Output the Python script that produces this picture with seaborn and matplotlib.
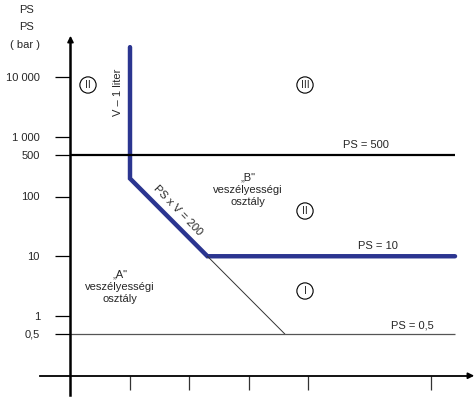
import numpy as np
import pandas as pd
import matplotlib
matplotlib.use("Agg")
import matplotlib.pyplot as plt
import seaborn as sns

# boundary data (V in liter, PS in bar)
blue_v = [1, 1, 20, 2.9e5]
blue_ps = [31600, 200, 10, 10]
thin_v = [20, 400]
thin_ps = [10, 0.5]
ps_lines = [500, 0.5]
line_end_v = 2.9e5
ytick_vals = [0.5, 1, 10, 100, 500, 1000, 10000]
ytick_labels = ["0,5", "1", "10", "100", "500", "1 000", "10 000"]
xtick_vals = [1, 10, 100, 1000, 1.15e5]

sns.set_style("white")
plt.rcParams['font.family'] = ['Liberation Sans', 'DejaVu Sans']

W, H = 477, 399
fig = plt.figure(figsize=(W / 100, H / 100), dpi=100)
ax = fig.add_axes([0, 0, 1, 1])
ax.set_xscale("log")
ax.set_yscale("log")

# pixel -> data mapping (about 59.5 px per decade)
def px(x, y):
    return 10 ** ((x - 130) / 59.5), 10 ** (4 - (y - 77) / 59.75)

x0, y1 = px(0, 0)
x1, y0 = px(W, H)
ax.set_xlim(x0, x1)
ax.set_ylim(y0, y1)

blue = "#2b3590"
sns.lineplot(x=blue_v, y=blue_ps, sort=False, estimator=None, color=blue,
             lw=3.2, ax=ax, solid_joinstyle="miter")
sns.lineplot(x=thin_v, y=thin_ps, sort=False, estimator=None,
             color="#333333", lw=0.7, ax=ax)
ax.hlines(ps_lines[0], 0.1, line_end_v, color="black", lw=1.6)
ax.hlines(ps_lines[1], 0.1, line_end_v, color="#555555", lw=0.9)

# axes through (0.1, 0.1)
for s in ["top", "right"]:
    ax.spines[s].set_visible(False)
ax.spines["left"].set_position(("data", 0.1))
ax.spines["bottom"].set_position(("data", 0.1))
ax.spines["left"].set_bounds(px(0, 395)[1], px(0, 40)[1])
ax.spines["bottom"].set_bounds(px(40, 0)[0], px(470, 0)[0])
ax.spines["left"].set_linewidth(1.8)
ax.spines["bottom"].set_linewidth(1.3)
ax.spines["left"].set_color("black")
ax.spines["bottom"].set_color("black")
ax.annotate("", xy=(0.1, px(0, 33)[1]), xytext=(0.1, px(0, 45)[1]),
            arrowprops=dict(arrowstyle="-|>", color="black", lw=1.2,
                            mutation_scale=9))
ax.annotate("", xy=(px(477, 0)[0], 0.1), xytext=(px(465, 0)[0], 0.1),
            arrowprops=dict(arrowstyle="-|>", color="black", lw=1.2,
                            mutation_scale=9))

ax.set_yticks(ytick_vals)
ax.set_yticklabels(ytick_labels)
ax.set_xticks(xtick_vals)
ax.set_xticklabels([])
ax.minorticks_off()
ax.tick_params(axis="y", direction="out", length=11, width=0.9, pad=11,
               labelsize=8, color="black", left=True)
ax.tick_params(axis="x", direction="out", length=10, width=0.9,
               color="#333333", bottom=True)

fs = 8
ax.text(*px(27, 10), "PS", ha="center", va="center", fontsize=fs)
ax.text(*px(27, 27), "PS", ha="center", va="center", fontsize=fs)
ax.text(*px(25, 45), "( bar )", ha="center", va="center", fontsize=fs)

circ = dict(boxstyle="circle,pad=0.3", fc="white", ec="black", lw=0.8)
for (cx, cy), lab in [((88, 85), "II"), ((305, 85), "III"),
                      ((305, 211), "II"), ((305, 291), "I")]:
    ax.text(*px(cx, cy), lab, ha="center", va="center", fontsize=7.5,
            bbox=circ)

ax.text(*px(248, 190), "\u201eB\"\nveszélyességi\nosztály", ha="center",
        va="center", fontsize=fs, linespacing=1.3)
ax.text(*px(120, 287), "\u201eA\"\nveszélyességi\nosztály", ha="center",
        va="center", fontsize=fs, linespacing=1.3)
ax.text(*px(118, 92), "V \u2013 1 liter", ha="center", va="center",
        fontsize=fs, rotation=90)
ax.text(*px(178, 210), "PS x V = 200", ha="center", va="center",
        fontsize=fs, rotation=-46, rotation_mode="anchor")
ax.text(*px(366, 145), "PS = 500", ha="center", va="center", fontsize=fs)
ax.text(*px(378, 246), "PS = 10", ha="center", va="center", fontsize=fs)
ax.text(*px(412, 325), "PS = 0,5", ha="center", va="center", fontsize=fs)

fig.savefig("out.png", dpi=100)
